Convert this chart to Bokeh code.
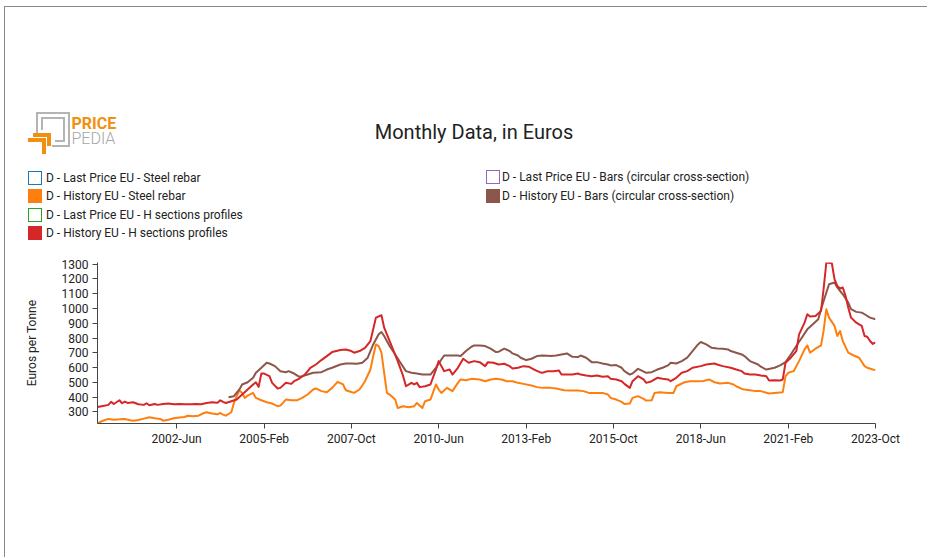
import pandas as pd
from bokeh.plotting import figure
from bokeh.layouts import column
from bokeh.models import FixedTicker, DatetimeTickFormatter, Range1d, Div
from bokeh.embed import file_html
from bokeh.resources import INLINE

# ---------------- data ----------------
rebar_dates = ["2000-01","2000-03","2000-05","2000-07","2000-09","2000-11","2001-01","2001-02","2001-04","2001-06",
               "2001-08","2001-10","2001-12","2002-01","2002-03","2002-05","2002-07","2002-09","2002-10","2002-12",
               "2003-02","2003-04","2003-05","2003-07","2003-09","2003-10","2003-11","2003-12","2004-02","2004-03",
               "2004-04","2004-05","2004-06","2004-07","2004-08","2004-10","2004-11","2005-01","2005-03","2005-05",
               "2005-07","2005-08","2005-10","2005-12","2006-02","2006-04","2006-06","2006-08","2006-09","2006-11",
               "2007-01","2007-03","2007-05","2007-07","2007-08","2007-10","2007-11","2008-01","2008-03","2008-05",
               "2008-06","2008-07","2008-08","2008-09","2008-10","2008-11","2008-12","2009-02","2009-03","2009-05",
               "2009-07","2009-09","2009-10","2009-12","2010-01","2010-03","2010-05","2010-06","2010-07","2010-09",
               "2010-11","2011-01","2011-02","2011-04","2011-06","2011-09","2011-11","2012-01","2012-03","2012-05",
               "2012-07","2012-09","2012-11","2013-01","2013-04","2013-06","2013-08","2013-11","2014-01","2014-04",
               "2014-06","2014-09","2014-11","2015-01","2015-03","2015-06","2015-08","2015-09","2015-11","2016-01",
               "2016-02","2016-04","2016-05","2016-07","2016-09","2016-10","2016-12","2017-01","2017-03","2017-06",
               "2017-08","2017-09","2017-12","2018-02","2018-05","2018-07","2018-09","2018-11","2019-01","2019-04",
               "2019-06","2019-07","2019-09","2019-10","2019-12","2020-02","2020-04","2020-07","2020-09","2020-12",
               "2021-01","2021-02","2021-04","2021-06","2021-08","2021-09","2021-10","2021-12","2022-02","2022-03",
               "2022-04","2022-05","2022-07","2022-08","2022-09","2022-10","2022-12","2023-02","2023-04","2023-06",
               "2023-07","2023-09","2023-10"]
rebar_values = [222,241,253,248,250,253,244,241,246,255,
                264,257,253,241,248,257,262,266,275,271,
                275,293,298,289,284,293,282,275,298,361,
                407,445,429,395,411,429,395,379,366,357,
                339,343,384,379,379,395,418,452,459,441,
                434,463,504,486,447,435,429,452,508,587,
                678,757,746,701,565,429,418,384,327,339,
                332,339,361,327,373,384,486,452,429,463,
                441,497,520,515,524,520,508,520,524,520,
                508,508,497,490,479,468,463,463,459,447,
                445,445,441,429,429,429,418,395,384,368,
                354,357,395,407,388,377,379,429,434,429,
                429,474,501,508,508,510,520,501,492,497,
                486,474,456,452,447,441,441,425,429,434,
                542,565,576,644,723,750,701,728,750,848,
                995,938,882,814,848,780,701,682,667,610,
                599,587,583]

hsec_dates = ["2000-01","2000-03","2000-05","2000-06","2000-07","2000-09","2000-10","2000-11","2000-12","2001-02",
              "2001-04","2001-06","2001-07","2001-08","2001-10","2001-11","2002-01","2002-03","2002-05","2002-07",
              "2002-09","2002-11","2003-01","2003-03","2003-05","2003-07","2003-09","2003-10","2003-11","2003-12",
              "2004-02","2004-04","2004-06","2004-08","2004-10","2004-11","2004-12","2005-01","2005-02","2005-04",
              "2005-05","2005-07","2005-08","2005-10","2005-12","2006-01","2006-03","2006-05","2006-07","2006-09",
              "2006-11","2007-01","2007-03","2007-06","2007-08","2007-10","2007-11","2008-01","2008-03","2008-05",
              "2008-07","2008-09","2008-10","2008-11","2009-01","2009-03","2009-05","2009-06","2009-08","2009-09",
              "2009-10","2009-11","2010-01","2010-03","2010-05","2010-06","2010-08","2010-10","2010-11","2011-01",
              "2011-03","2011-05","2011-07","2011-09","2011-11","2011-12","2012-02","2012-04","2012-06","2012-08",
              "2012-09","2012-11","2013-01","2013-03","2013-05","2013-07","2013-08","2013-10","2013-12","2014-02",
              "2014-03","2014-05","2014-07","2014-09","2014-10","2014-12","2015-02","2015-04","2015-06","2015-08",
              "2015-09","2015-11","2016-01","2016-02","2016-04","2016-05","2016-07","2016-09","2016-10","2016-12",
              "2017-02","2017-04","2017-06","2017-07","2017-09","2017-11","2018-01","2018-03","2018-06","2018-08",
              "2018-11","2018-12","2019-02","2019-05","2019-07","2019-09","2019-10","2019-12","2020-02","2020-04",
              "2020-06","2020-07","2020-09","2020-11","2020-12","2021-01","2021-03","2021-05","2021-06","2021-08",
              "2021-09","2021-10","2021-12","2022-02","2022-03","2022-04","2022-06","2022-07","2022-08","2022-09",
              "2022-10","2022-11","2022-12","2023-01","2023-03","2023-04","2023-05","2023-06","2023-07","2023-08",
              "2023-09","2023-10"]
hsec_values = [334,341,348,368,354,379,359,370,361,366,
               352,348,359,345,354,348,354,357,352,354,
               352,352,354,352,361,366,363,379,368,361,
               373,384,418,452,486,501,470,560,560,542,
               497,459,463,497,490,508,526,553,599,621,
               651,678,705,719,723,712,701,712,734,780,
               938,954,870,825,734,644,542,474,497,486,
               497,468,474,486,587,644,576,587,553,599,
               660,633,644,637,610,637,633,621,626,610,
               594,599,610,606,587,569,565,576,576,580,
               553,553,553,560,553,547,542,547,538,542,
               524,520,508,490,463,508,542,520,497,508,
               531,524,520,508,531,565,576,599,610,621,
               628,621,610,599,587,576,560,553,553,547,
               542,513,515,513,520,633,667,712,825,904,
               961,945,949,983,1130,1311,1306,1198,1153,1135,
               1142,1085,1006,938,904,893,882,814,809,780,
               760,770]

bars_dates = ["2004-01","2004-03","2004-05","2004-06","2004-08","2004-10","2004-11","2005-01","2005-03","2005-04",
              "2005-06","2005-08","2005-10","2005-11","2006-01","2006-03","2006-04","2006-06","2006-08","2006-11",
              "2007-01","2007-03","2007-06","2007-08","2007-10","2007-12","2008-02","2008-04","2008-06","2008-08",
              "2008-09","2008-10","2008-12","2009-02","2009-04","2009-06","2009-08","2009-10","2009-12","2010-03",
              "2010-05","2010-07","2010-08","2010-11","2011-01","2011-02","2011-04","2011-06","2011-07","2011-09",
              "2011-11","2012-01","2012-03","2012-04","2012-06","2012-08","2012-09","2012-11","2012-12","2013-02",
              "2013-04","2013-06","2013-08","2013-10","2013-11","2014-01","2014-03","2014-05","2014-07","2014-09",
              "2014-10","2014-12","2015-02","2015-04","2015-06","2015-08","2015-09","2015-11","2016-01","2016-02",
              "2016-04","2016-05","2016-07","2016-08","2016-10","2016-12","2017-02","2017-04","2017-06","2017-07",
              "2017-09","2017-11","2018-01","2018-03","2018-05","2018-06","2018-08","2018-10","2018-12","2019-02",
              "2019-04","2019-05","2019-07","2019-09","2019-10","2019-12","2020-03","2020-04","2020-06","2020-09",
              "2020-11","2021-01","2021-03","2021-05","2021-07","2021-09","2021-11","2022-01","2022-02","2022-04",
              "2022-05","2022-07","2022-08","2022-10","2022-12","2023-01","2023-03","2023-05","2023-06","2023-08",
              "2023-10"]
bars_values = [399,407,452,486,501,531,565,599,633,628,
               610,576,569,576,560,538,542,553,565,569,
               587,599,621,628,628,626,633,667,757,825,
               841,814,746,689,633,576,565,560,553,553,
               599,655,682,682,682,678,712,741,750,750,
               746,728,705,708,728,712,696,682,667,651,
               660,678,682,680,678,682,689,696,673,671,
               682,667,637,637,628,621,615,617,599,576,
               553,560,592,583,565,569,587,599,615,633,
               628,644,667,712,757,773,757,734,730,728,
               723,712,701,689,678,644,621,606,587,599,
               615,637,689,746,802,859,893,927,995,1108,
               1164,1176,1142,1096,1040,995,977,972,961,938,
               927]

x_tick_labels = ["2002-Jun", "2005-Feb", "2007-Oct", "2010-Jun", "2013-Feb",
                 "2015-Oct", "2018-Jun", "2021-Feb", "2023-Oct"]
y_ticks = [300, 400, 500, 600, 700, 800, 900, 1000, 1100, 1200, 1300]

series_labels = ["D - Last Price EU - Steel rebar", "D - History EU - Steel rebar",
                 "D - Last Price EU - H sections profiles", "D - History EU - H sections profiles",
                 "D - Last Price EU - Bars (circular cross-section)", "D - History EU - Bars (circular cross-section)"]
series_colors = ["#1f77b4", "#ff7f0e", "#2ca02c", "#d62728", "#9467bd", "#8c564b"]
chart_title = "Monthly Data, in Euros"

# ---------------- helpers ----------------
def to_dt(lst):
    return pd.to_datetime([d + "-01" for d in lst])

rebar_x = to_dt(rebar_dates)
hsec_x = to_dt(hsec_dates)
bars_x = to_dt(bars_dates)
all_vals = rebar_values + hsec_values + bars_values
x_start = min(rebar_x.min(), hsec_x.min(), bars_x.min())
x_end = max(rebar_x.max(), hsec_x.max(), bars_x.max())

FONT = "Roboto"
OX, OY = 5, 7            # page position of layout content (after border/margin)
W = 922
HT = 240                 # header height
ML, MR = 92, W - 92 - 778
MT, FH = 262 - OY - HT, 161
HB = 310
MB = HB - MT - FH

def hx(X):
    return X - OX

def hy(Y):
    return Y - OY

# ---------------- header (HTML) ----------------
parts = []
def absdiv(left, top_, style, inner=""):
    parts.append('<div style="position:absolute;left:%.1fpx;top:%.1fpx;%s">%s</div>'
                 % (hx(left), hy(top_), style, inner))

# title
absdiv(474 - 200, 122, "width:400px;text-align:center;font-size:20px;line-height:20px;"
       "color:#222;white-space:nowrap;", chart_title)

# logo
g = "#b4b4b4"
o = "#f0900f"
logo_boxes = [
    (35.5, 112, 69.5, 114, g), (68, 112, 70, 147, g), (52, 145, 70, 147, g), (35.5, 112, 37.5, 133, g),
    (40.5, 117, 64.5, 119, g), (63, 117, 65, 142, g), (55, 140, 65, 142, g), (40.5, 117, 42.5, 130, g),
    (28, 137.5, 46, 141.5, o), (42, 137.5, 46, 153.5, o), (33, 132.5, 51, 136.5, o), (47, 132.5, 51, 146, o),
]
for (l, t, r, b, c) in logo_boxes:
    absdiv(l, t, "width:%.1fpx;height:%.1fpx;background:%s;" % (r - l, b - t, c))
absdiv(71.5, 115.5, "font-size:16px;line-height:15px;white-space:nowrap;",
       '<span style="font-weight:bold;color:%s;">PRICE</span><br>'
       '<span style="font-weight:300;color:#a6a6a6;">PEDIA</span>' % o)

# legend
def legend_item(sq_left, text_left, center, color, filled, label):
    absdiv(sq_left, center - 7,
           "width:14px;height:14px;box-sizing:border-box;border:1.5px solid %s;background:%s;"
           % (color, color if filled else "white"))
    absdiv(text_left, center - 9, "font-size:12px;line-height:18px;color:#222;white-space:nowrap;", label)

left_rows = [177.5, 196, 214.5, 233]
for k, i in enumerate([0, 1, 2, 3]):
    legend_item(28.3, 46, left_rows[k], series_colors[i], i % 2 == 1, series_labels[i])
right_rows = [177, 195.5]
for k, i in enumerate([4, 5]):
    legend_item(486, 502, right_rows[k], series_colors[i], i % 2 == 1, series_labels[i])

header_html = ('<div style="position:relative;width:%dpx;height:%dpx;font-family:Roboto,sans-serif;">%s</div>'
               % (W, HT, "".join(parts)))
header = Div(text=header_html, width=W, height=HT, margin=0)

# ---------------- chart figure ----------------
p = figure(width=W, height=HB, output_backend="svg", toolbar_location=None,
           x_axis_type="datetime",
           x_range=Range1d(x_start, x_end),
           y_range=Range1d(min(all_vals), max(all_vals)),
           min_border_left=ML, min_border_right=MR, min_border_top=MT, min_border_bottom=MB)
p.outline_line_color = None
p.xgrid.visible = False
p.ygrid.visible = False

p.line(rebar_x, rebar_values, line_color=series_colors[1], line_width=2, line_join="round")
p.line(bars_x, bars_values, line_color=series_colors[5], line_width=2, line_join="round")
p.line(hsec_x, hsec_values, line_color=series_colors[3], line_width=2, line_join="round")

tick_ms = [pd.to_datetime(t, format="%Y-%b").value // 10**6 for t in x_tick_labels]
p.xaxis.ticker = FixedTicker(ticks=tick_ms)
fmt = "%Y-%b"
p.xaxis.formatter = DatetimeTickFormatter(years=fmt, months=fmt, days=fmt, hours=fmt,
                                          hourmin=fmt, minutes=fmt, minsec=fmt, seconds=fmt,
                                          milliseconds=fmt, microseconds=fmt)
p.yaxis.ticker = FixedTicker(ticks=y_ticks)
p.yaxis.axis_label = "Euros per Tonne"
for ax in (p.xaxis, p.yaxis):
    ax.major_label_text_font = FONT
    ax.major_label_text_font_size = "12px"
    ax.major_label_text_color = "#222222"
    ax.axis_line_color = "#444444"
    ax.major_tick_line_color = "#444444"
    ax.minor_tick_line_color = None
    ax.major_tick_out = 5
    ax.major_tick_in = 0
    ax.axis_label_text_font = FONT
    ax.axis_label_text_font_size = "12px"
    ax.axis_label_text_font_style = "normal"
    ax.axis_label_text_color = "#222222"
p.xaxis.major_label_standoff = 3
p.yaxis.major_label_standoff = 4
p.yaxis.axis_label_standoff = 20

layout = column(header, p, spacing=0,
                styles={"border-top": "1px solid #888888", "border-left": "1px solid #888888",
                        "margin-left": "4px", "margin-top": "6px"})

open("out.html", "w").write(file_html(layout, INLINE))
